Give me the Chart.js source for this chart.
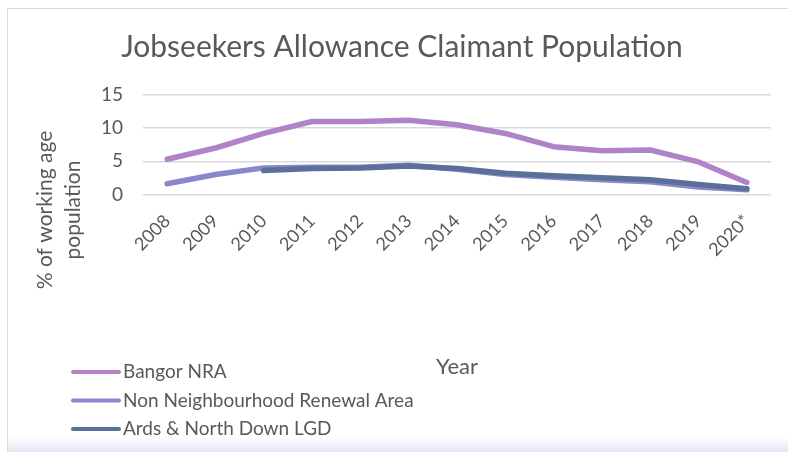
<!DOCTYPE html>
<html>
<head>
<meta charset="utf-8">
<script src="https://cdn.jsdelivr.net/npm/chart.js@4"></script>
<style>
  html, body { margin: 0; padding: 0; background: #fff; }
  #wrap { position: relative; width: 788px; height: 452px; overflow: hidden; }
  #frame {
    position: absolute; left: 7px; top: 8px; right: 0; bottom: 0;
    border-top: 1px solid #d9d9d9; border-left: 1px solid #d9d9d9;
    background: linear-gradient(to bottom, #fff 0, #fff 428px, #ece3f3 100%);
  }
  canvas { position: absolute; left: 0; top: 0; }
</style>
</head>
<body>
<div id="wrap">
  <div id="frame"></div>
  <canvas id="chart" width="788" height="452"></canvas>
</div>
<script>
// data
const years = ['2008', '2009', '2010', '2011', '2012', '2013', '2014', '2015', '2016', '2017', '2018', '2019', '2020*']
const bangorNRA = [5.3, 7.0, 9.2, 11.0, 11.0, 11.2, 10.5, 9.2, 7.2, 6.6, 6.7, 4.9, 1.8]
const nonNRA = [1.6, 3.0, 4.0, 4.1, 4.1, 4.4, 3.8, 3.0, 2.6, 2.2, 1.9, 1.1, 0.7]
const ardsNorthDown = [null, null, 3.6, 3.9, 4.0, 4.3, 3.9, 3.2, 2.8, 2.5, 2.2, 1.5, 0.85]
const yTicks = [0, 5, 10, 15]

const FONT = 'Lato, "Open Sans", sans-serif'
const GREY = '#595959'

// y title and legend drawn where Excel places them
const sideText = {
  id: 'sideText',
  afterDraw(chart) {
    const ctx = chart.ctx
    ctx.save()
    ctx.fillStyle = GREY
    ctx.font = '21px ' + FONT
    ctx.textAlign = 'center'
    ctx.textBaseline = 'middle'
    ctx.translate(59, 210)
    ctx.rotate(-Math.PI / 2)
    ctx.fillText('% of working age', 0, -14)
    ctx.fillText('population', 0, 14)
    ctx.restore()

    ctx.save()
    ctx.font = '19px ' + FONT
    ctx.textBaseline = 'middle'
    ctx.lineCap = 'round'
    chart.data.datasets.forEach((ds, i) => {
      const y = 372 + i * 28.5
      ctx.strokeStyle = ds.borderColor
      ctx.lineWidth = 4
      ctx.beginPath()
      ctx.moveTo(73, y)
      ctx.lineTo(119, y)
      ctx.stroke()
      ctx.fillStyle = GREY
      ctx.fillText(ds.label, 123, y)
    })
    ctx.restore()
  },
}

const ctx = document.getElementById('chart').getContext('2d')

new Chart(ctx, {
  type: 'line',
  data: {
    labels: years,
    datasets: [
      {
        label: 'Bangor NRA',
        data: bangorNRA,
        borderColor: '#b083c9',
        order: 2,
      },
      {
        label: 'Non Neighbourhood Renewal Area',
        data: nonNRA,
        borderColor: '#8a87cd',
        order: 1,
      },
      {
        label: 'Ards & North Down LGD',
        data: ardsNorthDown,
        borderColor: '#5a6f99',
        order: 0,
      },
    ],
  },
  options: {
    responsive: false,
    animation: false,
    devicePixelRatio: 1,
    layout: {
      padding: { left: 33, right: 17, top: 0, bottom: 100 },
    },
    elements: {
      line: { borderWidth: 5.5, tension: 0, borderCapStyle: 'round', borderJoinStyle: 'round', fill: false },
      point: { radius: 0, hoverRadius: 0 },
    },
    plugins: {
      legend: { display: false },
      tooltip: { enabled: false },
      title: {
        display: true,
        text: 'Jobseekers Allowance Claimant Population',
        color: GREY,
        font: { family: FONT, size: 30, weight: 'normal' },
        padding: { top: 29, bottom: 30 },
      },
    },
    scales: {
      x: {
        offset: true,
        grid: { display: false },
        border: { display: false },
        ticks: {
          color: GREY,
          font: { family: FONT, size: 18 },
          minRotation: 45,
          maxRotation: 45,
          padding: 8,
        },
        title: {
          display: true,
          text: 'Year',
          color: GREY,
          font: { family: FONT, size: 22 },
          padding: { top: 85, bottom: -28 },
        },
      },
      y: {
        min: 0,
        max: 15,
        afterBuildTicks: (axis) => {
          axis.ticks = yTicks.map((v) => ({ value: v }))
        },
        afterFit: (axis) => {
          axis.width = 110
        },
        grid: { color: '#d9d9d9', lineWidth: 1.5, drawTicks: false },
        border: { display: false },
        ticks: {
          color: GREY,
          font: { family: FONT, size: 19 },
          padding: 20,
        },
      },
    },
  },
  plugins: [sideText],
})
</script>
</body>
</html>
